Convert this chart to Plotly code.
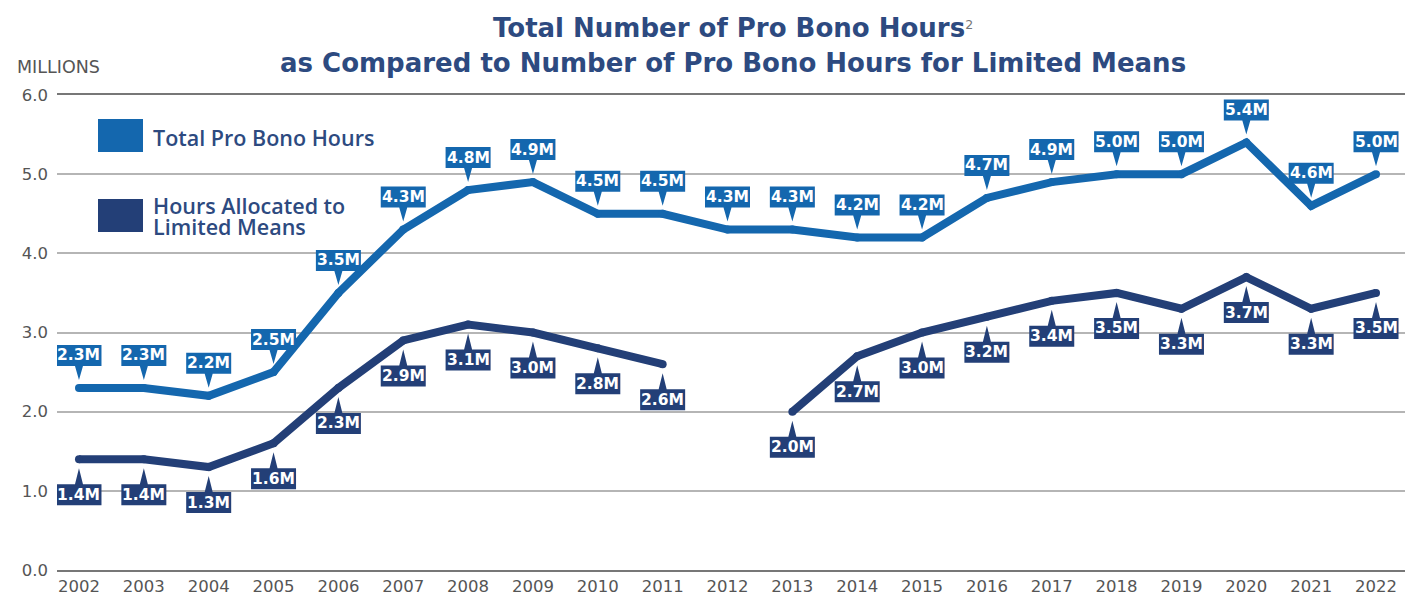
import plotly.graph_objects as go

years = list(range(2002, 2023))
total_hours = [2.3, 2.3, 2.2, 2.5, 3.5, 4.3, 4.8, 4.9, 4.5, 4.5, 4.3, 4.3, 4.2, 4.2, 4.7, 4.9, 5.0, 5.0, 5.4, 4.6, 5.0]
limited_hours = [1.4, 1.4, 1.3, 1.6, 2.3, 2.9, 3.1, 3.0, 2.8, 2.6, None, 2.0, 2.7, 3.0, 3.2, 3.4, 3.5, 3.3, 3.7, 3.3, 3.5]
series_names = ["Total Pro Bono Hours", ["Hours Allocated to", "Limited Means"]]
y_ticks = [0, 1, 2, 3, 4, 5, 6]

BLUE = "#1467ae"
NAVY = "#233f77"
TITLE_C = "#2d4a80"
GRAY_T = "#555555"

W, H = 1405, 601
ML, MR, MT, MB = 57, 0, 95, 31
PW, PH = W - ML - MR, H - MT - MB


def px_x(px):
    return (px - ML) / PW


def px_y(py):
    return (H - MB - py) / PH


fig = go.Figure()
fig.add_trace(go.Scatter(x=years, y=total_hours, mode="lines+markers",
                         line=dict(color=BLUE, width=8),
                         marker=dict(color=BLUE, size=8),
                         connectgaps=False, showlegend=False, hoverinfo="skip"))
fig.add_trace(go.Scatter(x=years, y=limited_hours, mode="lines+markers",
                         line=dict(color=NAVY, width=8),
                         marker=dict(color=NAVY, size=8),
                         connectgaps=False, showlegend=False, hoverinfo="skip"))

shapes = []
annotations = []

# callout labels
up_path = "M -22.5,22 H -4 L 0,8 L 4,22 H 22.5 V 43 H -22.5 Z"
down_path = "M -22.5,-25 H -4 L 0,-9 L 4,-25 H 22.5 V -46 H -22.5 Z"
lbl_font = dict(family="DejaVu Sans", size=15.5, color="white", weight="bold")
for yr, v in zip(years, total_hours):
    if v is None:
        continue
    shapes.append(dict(type="path", xsizemode="pixel", ysizemode="pixel",
                       xanchor=yr, yanchor=v, xref="x", yref="y", path=up_path,
                       fillcolor=BLUE, line=dict(width=0), layer="above"))
    annotations.append(dict(x=yr, y=v, xref="x", yref="y", text=f"{v:.1f}M",
                            showarrow=False, yshift=32.5, yanchor="middle", font=lbl_font))
for yr, v in zip(years, limited_hours):
    if v is None:
        continue
    shapes.append(dict(type="path", xsizemode="pixel", ysizemode="pixel",
                       xanchor=yr, yanchor=v, xref="x", yref="y", path=down_path,
                       fillcolor=NAVY, line=dict(width=0), layer="above"))
    annotations.append(dict(x=yr, y=v, xref="x", yref="y", text=f"{v:.1f}M",
                            showarrow=False, yshift=-35.5, yanchor="middle", font=lbl_font))

# legend swatches
shapes.append(dict(type="rect", xref="paper", yref="paper",
                   x0=px_x(98), x1=px_x(143), y0=px_y(152), y1=px_y(119),
                   fillcolor=BLUE, line=dict(width=0)))
shapes.append(dict(type="rect", xref="paper", yref="paper",
                   x0=px_x(98), x1=px_x(143), y0=px_y(232), y1=px_y(199),
                   fillcolor=NAVY, line=dict(width=0)))
leg_font = dict(family="Open Sans", size=21.5, color=TITLE_C, weight=600)
annotations.append(dict(x=px_x(151), y=px_y(137), xref="paper", yref="paper",
                        text=series_names[0], showarrow=False, xanchor="left",
                        yanchor="middle", font=leg_font))
annotations.append(dict(x=px_x(151), y=px_y(205), xref="paper", yref="paper",
                        text=series_names[1][0], showarrow=False, xanchor="left",
                        yanchor="middle", font=leg_font, height=20))
annotations.append(dict(x=px_x(151), y=px_y(226), xref="paper", yref="paper",
                        text=series_names[1][1], showarrow=False, xanchor="left",
                        yanchor="middle", font=leg_font, height=20))

# title
title_font = dict(family="DejaVu Sans", size=26, color=TITLE_C, weight="bold")
annotations.append(dict(x=px_x(733), y=px_y(28), xref="paper", yref="paper",
                        text="Total Number of Pro Bono Hours<span style='font-weight:normal;color:#777777;font-size:18px'><sup>2</sup></span>",
                        showarrow=False, xanchor="center", yanchor="middle", font=title_font))
annotations.append(dict(x=px_x(733), y=px_y(63), xref="paper", yref="paper",
                        text="as Compared to Number of Pro Bono Hours for Limited Means",
                        showarrow=False, xanchor="center", yanchor="middle", font=title_font))
# unit label
annotations.append(dict(x=px_x(15), y=px_y(67), xref="paper", yref="paper",
                        text="MILLIONS", showarrow=False, xanchor="left", yanchor="middle",
                        font=dict(family="DejaVu Sans", size=17.5, color=GRAY_T)))

fig.update_layout(
    width=W, height=H,
    margin=dict(l=ML, r=MR, t=MT, b=MB, pad=0, autoexpand=False),
    plot_bgcolor="white", paper_bgcolor="white",
    shapes=shapes, annotations=annotations,
    showlegend=False,
)
tick_font = dict(family="DejaVu Sans", size=16.5, color=GRAY_T)
fig.update_xaxes(range=[2001.661, 2022.447], tickmode="array", tickvals=years,
                 ticktext=[str(y) for y in years], showgrid=False,
                 showline=True, mirror=True, linecolor="#777777", linewidth=2,
                 ticks="", tickfont=tick_font, zeroline=False, automargin=False)
fig.update_yaxes(range=[0, 6], tickmode="array", tickvals=y_ticks,
                 ticktext=[f"{t:.1f}" for t in y_ticks], showgrid=True,
                 gridcolor="#b5b5b5", gridwidth=2, zeroline=False, showline=False,
                 ticks="", ticklabelstandoff=8, tickfont=tick_font, automargin=False)

fig.write_html("out.html", config={"displayModeBar": False},
               post_script="document.body.style.margin='0';")
